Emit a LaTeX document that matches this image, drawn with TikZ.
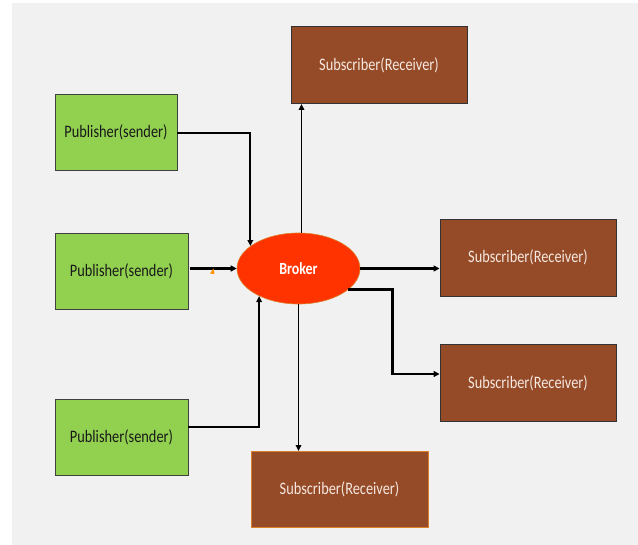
\documentclass[tikz,border=0pt]{standalone}
\usepackage{fontspec}
\setmainfont{Carlito}[FakeStretch=0.82]
\usetikzlibrary{arrows.meta,shapes.geometric}

\definecolor{pagebg}{HTML}{F1F1F1}
\definecolor{pubgreen}{HTML}{92D050}
\definecolor{subbrown}{HTML}{964B28}
\definecolor{brokerred}{HTML}{FF3300}
\definecolor{brokerrim}{HTML}{D9822B}
\definecolor{subtext}{HTML}{F4E8E0}

\tikzset{
  pubbox/.style={draw=black!75, line width=0.9bp, fill=pubgreen, text=black!90,
    minimum height=76bp, inner sep=0pt,
    font=\fontsize{17.5bp}{20bp}\selectfont},
  subbox/.style={draw=black!80, line width=0.9bp, fill=subbrown, text=subtext,
    minimum width=176bp, minimum height=77bp, inner sep=0pt,
    font=\fontsize{17.5bp}{20bp}\selectfont},
  brokernode/.style={ellipse, draw=brokerrim, line width=0.6bp, fill=brokerred,
    text=white, minimum width=123bp, minimum height=71bp, inner sep=0pt,
    font=\fontsize{17bp}{20bp}\selectfont\bfseries},
  link/.style={line width=1.8bp, -{Triangle[length=6bp,width=5.5bp]}},
  boldlink/.style={line width=2.4bp, -{Triangle[length=6bp,width=6bp]}}
}

\begin{document}
\begin{tikzpicture}[x=1bp,y=-1bp]
  \useasboundingbox (0,0) rectangle (638,545);
  \fill[white] (0,0) rectangle (638,545);
  \fill[pagebg] (11.5,3) rectangle (638,545);

  % publishers
  \node[pubbox, minimum width=122bp] (p1) at (116,132.75) {Publisher(sender)};
  \node[pubbox, minimum width=133bp] (p2) at (121.5,271) {Publisher(sender)};
  \node[pubbox, minimum width=133bp] (p3) at (121.5,437) {Publisher(sender)};

  % broker
  \node[brokernode] (b) at (298.5,268.5) {Broker};

  % subscribers
  \node[subbox] (st) at (379,65) {Subscriber(Receiver)};
  \node[subbox] (r1) at (528,257.5) {Subscriber(Receiver)};
  \node[subbox] (r2) at (528,383) {Subscriber(Receiver)};
  \node[subbox, draw=brokerrim, minimum width=177bp, minimum height=76bp] (sb) at (339.5,489.5) {Subscriber(Receiver)};

  % publishers to broker
  \draw[link] (p1.east) -| (b.155);
  \draw[boldlink, shorten <=2bp] (p2.east |- b.west) -- (b.west);
  \draw[link] ([yshift=10bp]p3.east) -| (b.215);

  % broker to subscribers
  \draw[link] ([xshift=3bp]b.north) -- ([xshift=3bp]b.north |- st.south);
  \draw[boldlink] (b.east) -- (b.east -| r1.west);
  \draw[boldlink] (b.337) -- ++(44,0) |- ([yshift=9bp]r2.west);
  \draw[link] (b.south) -- (b.south |- sb.north);

  % small orange mark beside the middle arrow
  \fill[orange!85!yellow] (210,273.5) -- (213.5,268.5) -- (214.5,274) -- cycle;
\end{tikzpicture}
\end{document}
